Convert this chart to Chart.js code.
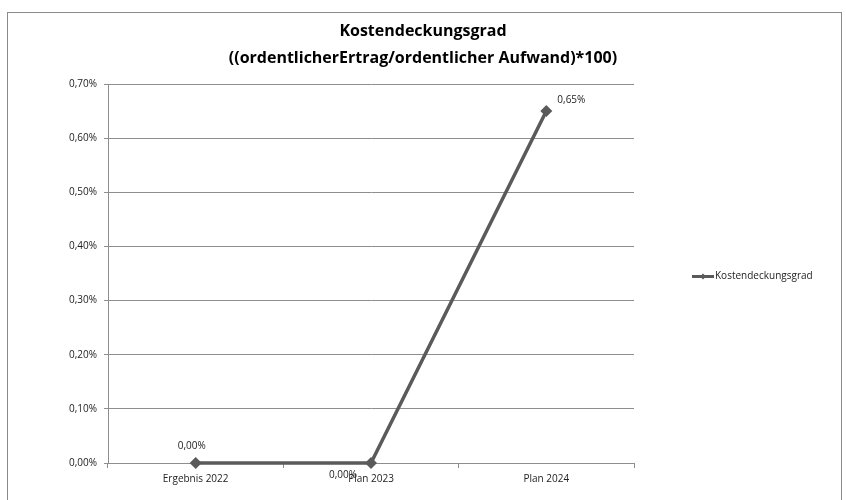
<!DOCTYPE html>
<html>
<head>
<meta charset="utf-8">
<script src="https://cdn.jsdelivr.net/npm/chart.js@4"></script>
<style>
  html, body { margin: 0; padding: 0; background: #fff; }
  #wrap { width: 846px; height: 500px; position: relative; }
</style>
</head>
<body>
<div id="wrap"><canvas id="chart" width="846" height="500"></canvas></div>
<script>
var categories = ["Ergebnis 2022", "Plan 2023", "Plan 2024"];
var values = [0.00, 0.00, 0.65];
var seriesName = "Kostendeckungsgrad";
var titleLines = ["Kostendeckungsgrad", "((ordentlicherErtrag/ordentlicher Aufwand)*100)"];

var FONT = "'Open Sans', 'Noto Sans', sans-serif";
var lineColor = "#5a5a5a";
var gridColor = "#8e8e8e";

function fmt(v) {
    return v.toFixed(2).replace(".", ",") + "%";
}

// frame, title, data labels and legend in Excel style
var excelPlugin = {
    id: "excelStyle",
    beforeDraw: function (chart) {
        var ctx = chart.ctx;
        ctx.save();
        ctx.fillStyle = "#fff";
        ctx.fillRect(0, 0, chart.width, chart.height);
        ctx.strokeStyle = "#8a8a8a";
        ctx.lineWidth = 1;
        ctx.strokeRect(7.5, 12.5, 834, 500);
        ctx.restore();
    },
    afterDraw: function (chart) {
        var ctx = chart.ctx;
        ctx.save();
        ctx.fillStyle = "#000";
        ctx.textAlign = "center";
        ctx.textBaseline = "middle";
        ctx.font = "bold 16px " + FONT;
        ctx.fillText(titleLines[0], 423, 31);
        ctx.fillText(titleLines[1], 423, 58);

        // data labels
        var meta = chart.getDatasetMeta(0);
        ctx.font = "10px " + FONT;
        ctx.fillStyle = "#222";
        var shifts = [[-4, -17], [-28, 12], [25, -11]];
        meta.data.forEach(function (pt, i) {
            ctx.fillText(fmt(values[i]), pt.x + shifts[i][0], pt.y + shifts[i][1]);
        });

        // legend
        var ly = (chart.chartArea.top + chart.chartArea.bottom) / 2 + 3;
        var lx = 692;
        ctx.strokeStyle = lineColor;
        ctx.lineWidth = 3;
        ctx.beginPath();
        ctx.moveTo(lx, ly);
        ctx.lineTo(lx + 22, ly);
        ctx.stroke();
        ctx.fillStyle = lineColor;
        ctx.beginPath();
        ctx.moveTo(lx + 11, ly - 3);
        ctx.lineTo(lx + 14, ly);
        ctx.lineTo(lx + 11, ly + 3);
        ctx.lineTo(lx + 8, ly);
        ctx.closePath();
        ctx.fill();
        ctx.fillStyle = "#222";
        ctx.textAlign = "left";
        ctx.font = "10px " + FONT;
        ctx.fillText(seriesName, lx + 23, ly);
        ctx.restore();
    }
};

new Chart(document.getElementById("chart"), {
    type: "line",
    data: {
        labels: categories,
        datasets: [{
            label: seriesName,
            data: values,
            borderColor: lineColor,
            backgroundColor: lineColor,
            borderWidth: 3.5,
            pointStyle: "rectRot",
            pointRadius: 6,
            pointBackgroundColor: lineColor,
            pointBorderColor: lineColor,
            pointBorderWidth: 0,
            tension: 0,
            fill: false,
            clip: false
        }]
    },
    options: {
        responsive: false,
        animation: false,
        layout: { padding: { top: 84, right: 212, bottom: 10, left: 0 } },
        plugins: {
            legend: { display: false },
            title: { display: false },
            tooltip: { enabled: false }
        },
        scales: {
            x: {
                offset: true,
                grid: { display: true, drawOnChartArea: false, drawTicks: true, tickLength: 5, offset: true, color: gridColor },
                border: { display: true, color: gridColor },
                ticks: { color: "#222", font: { family: FONT, size: 10 }, padding: 5, maxRotation: 0 }
            },
            y: {
                min: 0,
                max: 0.7,
                afterFit: function (scale) { scale.width = 108; },
                grid: { color: gridColor, lineWidth: 1, tickLength: 4, drawTicks: true },
                border: { display: true, color: gridColor },
                ticks: {
                    stepSize: 0.1,
                    color: "#222",
                    padding: 7,
                    font: { family: FONT, size: 10 },
                    callback: function (v) { return fmt(v); }
                }
            }
        }
    },
    plugins: [excelPlugin]
});
</script>
</body>
</html>
